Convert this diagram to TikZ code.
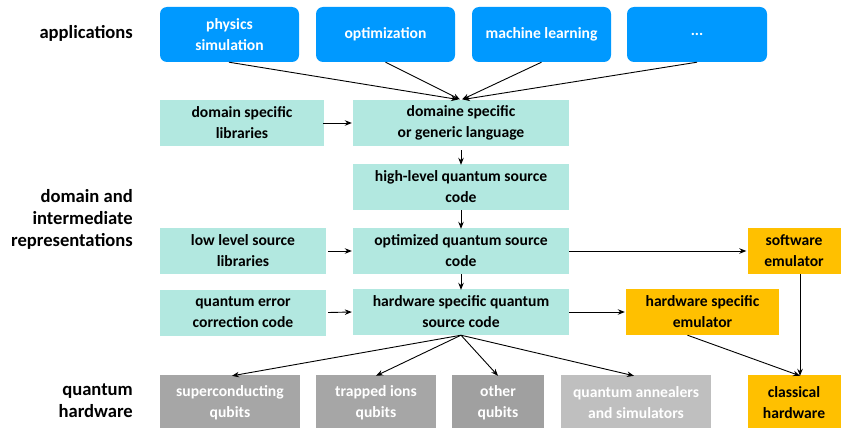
\documentclass[tikz,border=0pt]{standalone}
\usepackage{fontspec}
\setmainfont{Carlito}
\usetikzlibrary{arrows.meta}
\definecolor{appblue}{RGB}{0,153,255}
\definecolor{teal1}{RGB}{178,232,224}
\definecolor{orng}{RGB}{255,192,0}
\definecolor{gr1}{RGB}{166,166,166}
\definecolor{gr2}{RGB}{160,160,160}
\definecolor{gr3}{RGB}{191,191,191}
\begin{document}
\begin{tikzpicture}[x=1pt,y=-1pt,
  base/.style={inner sep=0pt,align=center,font=\fontsize{15.6}{21}\selectfont\bfseries},
  app/.style={base,fill=appblue,text=white,rounded corners=7pt,minimum height=55pt},
  rep/.style={base,fill=teal1,text=black,minimum height=46pt},
  emu/.style={base,fill=orng,text=black,minimum height=46pt},
  hwb/.style={base,text=white,minimum height=56pt},
  lab/.style={inner sep=0pt,anchor=east,align=right,font=\fontsize{18.6}{22}\selectfont\bfseries},
  arr/.style={-{Stealth[length=7pt,width=5.5pt]},line width=0.9pt,black}]
\useasboundingbox (0,0) rectangle (854,428);
% applications
\node[app,minimum width=139pt] (phys) at (229.5,34.5) {physics\\simulation};
\node[app,minimum width=139pt] (opt) at (385.5,34.5) {optimization};
\node[app,minimum width=139pt] (ml) at (541.5,34.5) {machine learning};
\node[app,minimum width=140pt] (dots) at (697,34.5) {...};
% representations
\node[rep,minimum width=164pt] (dsl) at (242,123) {domain specific\\libraries};
\node[rep,minimum width=216pt] (dom) at (461,123) {domaine specific\\or generic language};
\node[rep,minimum width=216pt] (hl) at (461,187) {high-level quantum source\\code};
\node[rep,minimum width=166pt] (ll) at (243,251) {low level source\\libraries};
\node[rep,minimum width=216pt] (oq) at (461,251) {optimized quantum source\\code};
\node[emu,minimum width=93pt] (sw) at (794,251) {software\\emulator};
\node[rep,minimum width=166pt] (qec) at (243,312.5) {quantum error\\correction code};
\node[rep,minimum width=216pt] (hw) at (461,312) {hardware specific quantum\\source code};
\node[emu,minimum width=153pt] (hwe) at (702.5,312) {hardware specific\\emulator};
% hardware
\node[hwb,fill=gr1,minimum width=140pt] (sc) at (230,403) {superconducting\\qubits};
\node[hwb,fill=gr1,minimum width=120pt] (ti) at (376,403) {trapped ions\\qubits};
\node[hwb,fill=gr2,minimum width=92pt] (oth) at (498,403) {other\\qubits};
\node[hwb,fill=gr3,minimum width=150pt] (qa) at (636,403) {quantum annealers\\and simulators};
\node[emu,minimum width=93pt,minimum height=56pt] (ch) at (794,403) {classical\\hardware};
% left labels
\node[lab] (l1) at (133,33) {applications};
\node[lab] (l2) at (133,219) {domain and\\intermediate\\representations};
\node[lab] (l3) at (133,401) {quantum\\hardware};
% arrows
\coordinate (t) at (461,99.5);
\draw[arr] ([xshift=-0.5pt]phys.south) -- ([xshift=-3pt]t);
\draw[arr] ([xshift=0pt]opt.south) -- ([xshift=-1pt]t);
\draw[arr] ([xshift=0pt]ml.south) -- ([xshift=1pt]t);
\draw[arr] ([xshift=0pt]dots.south) -- ([xshift=2pt]t);
\draw[arr] ([xshift=-1pt]dsl.east) -- ([xshift=-1pt]dom.west);
\draw[arr] (dom.south) ++(0,4) -- ([yshift=-1pt]hl.north);
\draw[arr] (hl.south) -- ([yshift=-1pt]oq.north);
\draw[arr] ([xshift=2pt]ll.east) -- ([xshift=-1pt]oq.west);
\draw[arr] (oq.east) -- ([xshift=-1pt]sw.west);
\draw[arr] (oq.south) -- ([yshift=-1pt]hw.north);
\draw[arr] ([xshift=2pt]qec.east) -- ([xshift=-1pt]hw.west);
\draw[arr] (hw.east) -- ([xshift=-1pt]hwe.west);
\draw[arr] (hw.south) -- ([xshift=2pt,yshift=-1pt]sc.north);
\draw[arr] (hw.south) -- ([xshift=0pt,yshift=-1pt]ti.north);
\draw[arr] (hw.south) -- ([xshift=0pt,yshift=-1pt]oth.north);
\draw[arr] (hw.south) -- ([xshift=-2pt,yshift=-1pt]qa.north);
\draw[arr] ([xshift=-15pt]hwe.south) -- ([xshift=6pt,yshift=-1pt]ch.north);
\draw[arr] ([xshift=6pt]sw.south) -- ([xshift=6pt,yshift=-1pt]ch.north);
\end{tikzpicture}
\end{document}
